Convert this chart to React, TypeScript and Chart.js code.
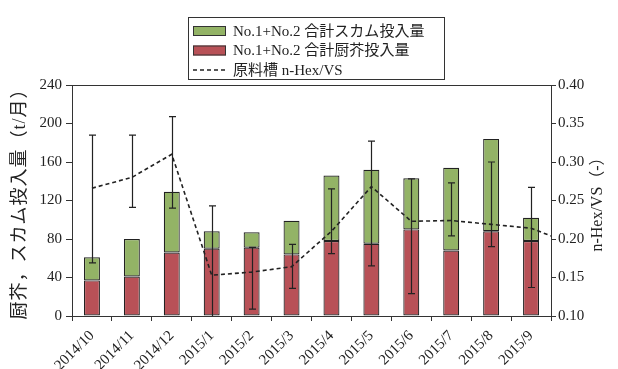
import React, { useEffect, useRef } from 'react';
import { Chart, registerables } from 'chart.js';

Chart.register(...registerables);

// ---- data ----
const months = ['2014/10', '2014/11', '2014/12', '2015/1', '2015/2', '2015/3', '2015/4', '2015/5', '2015/6', '2015/7', '2015/8', '2015/9'];
const kitchenWaste = [37, 41, 66, 70, 71, 64, 78, 75, 90, 68, 88, 78];
const scum = [24, 39, 63, 18, 16, 35, 68, 77, 53, 86, 96, 24];
const hexVS = [0.266, 0.28, 0.31, 0.153, 0.157, 0.164, 0.21, 0.268, 0.223, 0.224, 0.219, 0.214];
const hexVSEdge = 0.204; // line continues to the right border
const hexHigh = [0.335, 0.335, 0.359, 0.243, 0.189, 0.193, 0.265, 0.327, 0.278, 0.273, 0.300, 0.267];
const hexLow = [0.169, 0.241, 0.240, 0.08, 0.109, 0.136, 0.181, 0.165, 0.129, 0.204, 0.190, 0.137];
const leftTitle = '厨芥，スカム投入量（t/月）';
const rightTitle = 'n-Hex/VS（-）';
const scumLabel = 'No.1+No.2 合計スカム投入量';
const wasteLabel = 'No.1+No.2 合計厨芥投入量';
const lineLabel = '原料槽 n-Hex/VS';

const SERIF = "'Liberation Serif', 'Noto Sans CJK JP', serif";
const INK = '#222';

const framePlugin = {
  id: 'frame',
  afterDraw(chart: any) {
    const { ctx, chartArea: a } = chart;
    ctx.save();
    ctx.strokeStyle = '#333';
    ctx.lineWidth = 1;
    ctx.beginPath();
    ctx.moveTo(a.left, a.top + 0.5);
    ctx.lineTo(a.right, a.top + 0.5);
    ctx.stroke();
    ctx.restore();
  },
};

const errorBarPlugin = {
  id: 'errorBars',
  afterDatasetsDraw(chart: any) {
    const { ctx, chartArea: a } = chart;
    const xs = chart.scales.x;
    const ys = chart.scales.y1;
    ctx.save();
    ctx.beginPath();
    ctx.rect(a.left, a.top, a.right - a.left, a.bottom - a.top);
    ctx.clip();
    ctx.strokeStyle = INK;
    ctx.lineWidth = 1.2;
    const cap = 3.5;
    for (let i = 0; i < months.length; i++) {
      const x = Math.round(xs.getPixelForValue(i)) + 0.5;
      const yt = ys.getPixelForValue(hexHigh[i]);
      const yb = ys.getPixelForValue(hexLow[i]);
      ctx.beginPath();
      ctx.moveTo(x, yt);
      ctx.lineTo(x, yb);
      ctx.moveTo(x - cap, yt);
      ctx.lineTo(x + cap, yt);
      ctx.moveTo(x - cap, yb);
      ctx.lineTo(x + cap, yb);
      ctx.stroke();
    }
    ctx.restore();
  },
};

const titlesPlugin = {
  id: 'axisTitles',
  afterDraw(chart: any) {
    const { ctx, chartArea: a } = chart;
    const cy = (a.top + a.bottom) / 2;
    ctx.save();
    ctx.fillStyle = INK;
    ctx.textAlign = 'center';
    ctx.textBaseline = 'middle';
    ctx.font = `18px ${SERIF}`;
    try { (ctx as any).letterSpacing = '1px'; } catch (e) { /* ignore */ }
    ctx.save();
    ctx.translate(20, cy - 1);
    ctx.rotate(-Math.PI / 2);
    ctx.fillText(leftTitle, 0, 0);
    ctx.restore();
    try { (ctx as any).letterSpacing = '0px'; } catch (e) { /* ignore */ }
    ctx.font = `16px ${SERIF}`;
    ctx.save();
    ctx.translate(598, cy);
    ctx.rotate(-Math.PI / 2);
    ctx.fillText(rightTitle, 0, 0);
    ctx.restore();
    ctx.restore();
  },
};

const legendPlugin = {
  id: 'boxLegend',
  afterDraw(chart: any) {
    const { ctx } = chart;
    const ds = chart.data.datasets;
    const items = [ds[1], ds[0], ds[2]];
    const x0 = 188, y0 = 17, w = 256, h = 62;
    ctx.save();
    ctx.fillStyle = '#fff';
    ctx.fillRect(x0, y0, w, h);
    ctx.strokeStyle = '#333';
    ctx.lineWidth = 1;
    ctx.strokeRect(x0 + 0.5, y0 + 0.5, w, h);
    ctx.font = `15px ${SERIF}`;
    ctx.textBaseline = 'middle';
    ctx.textAlign = 'left';
    items.forEach((d: any, i: number) => {
      const cy = y0 + 14 + i * 19.5;
      if (d.type === 'line') {
        ctx.strokeStyle = INK;
        ctx.lineWidth = 1.5;
        ctx.setLineDash([4, 3]);
        ctx.beginPath();
        ctx.moveTo(x0 + 5, cy);
        ctx.lineTo(x0 + 38, cy);
        ctx.stroke();
        ctx.setLineDash([]);
      } else {
        ctx.fillStyle = d.backgroundColor;
        ctx.fillRect(x0 + 5, cy - 5, 33, 10);
        ctx.strokeStyle = '#333';
        ctx.lineWidth = 1;
        ctx.strokeRect(x0 + 5.5, cy - 4.5, 32, 9);
      }
      ctx.fillStyle = INK;
      ctx.fillText(d.label, x0 + 45, cy + 1);
    });
    ctx.restore();
  },
};

export default function App() {
  const ref = useRef<HTMLCanvasElement | null>(null);
  useEffect(() => {
    if (!ref.current) return;
    const lineData = hexVS.map((v, i) => ({ x: i, y: v }));
    lineData.push({ x: months.length - 0.5, y: hexVSEdge });
    const barCommon = {
      borderColor: '#222',
      borderWidth: 1.2,
      borderSkipped: false,
      barPercentage: 0.4,
      categoryPercentage: 1,
      grouped: false,
      yAxisID: 'y',
      xAxisID: 'x',
      stack: 's',
      order: 2,
    };
    const chart = new Chart(ref.current, {
      type: 'bar',
      data: {
        labels: months,
        datasets: [
          { type: 'bar', label: wasteLabel, data: kitchenWaste, backgroundColor: '#b85157', ...barCommon },
          { type: 'bar', label: scumLabel, data: scum, backgroundColor: '#93b366', ...barCommon },
          {
            type: 'line',
            label: lineLabel,
            data: lineData as any,
            borderColor: INK,
            borderWidth: 1.6,
            borderDash: [4, 3],
            pointRadius: 0,
            fill: false,
            tension: 0,
            yAxisID: 'y1',
            xAxisID: 'xl',
            order: 0,
          } as any,
        ],
      },
      options: {
        responsive: false,
        animation: false,
        layout: { padding: { top: 85, left: 0, right: 0, bottom: 0 } },
        plugins: { legend: { display: false }, tooltip: { enabled: false }, title: { display: false } },
        scales: {
          x: {
            type: 'category',
            stacked: true,
            offset: true,
            grid: { display: true, drawOnChartArea: false, drawTicks: true, tickLength: 5, color: '#333', offset: true },
            border: { display: true, color: '#333' },
            ticks: {
              autoSkip: false,
              maxRotation: 45,
              minRotation: 45,
              padding: 6,
              color: INK,
              font: { family: SERIF, size: 15 },
            },
            afterFit: (s: any) => { s.height = 53; },
          },
          xl: {
            type: 'linear',
            display: false,
            offset: false,
            grid: { offset: false },
            bounds: 'data',
            min: -0.5,
            max: months.length - 0.5,
          },
          y: {
            type: 'linear',
            position: 'left',
            stacked: true,
            min: 0,
            max: 240,
            ticks: { stepSize: 40, padding: 4, color: INK, font: { family: SERIF, size: 15 } },
            grid: { display: true, drawOnChartArea: false, drawTicks: true, tickLength: 6, color: '#333' },
            border: { display: true, color: '#333' },
            afterFit: (s: any) => { s.width = 72; },
          },
          y1: {
            type: 'linear',
            position: 'right',
            min: 0.1,
            max: 0.4,
            ticks: {
              stepSize: 0.05,
              padding: 2,
              color: INK,
              font: { family: SERIF, size: 15 },
              callback: (v: any) => Number(v).toFixed(2),
            },
            grid: { display: true, drawOnChartArea: false, drawTicks: true, tickLength: 5, color: '#333' },
            border: { display: true, color: '#333' },
            afterFit: (s: any) => { s.width = 67; },
          },
        },
      } as any,
      plugins: [framePlugin, errorBarPlugin, titlesPlugin, legendPlugin],
    });
    return () => chart.destroy();
  }, []);
  return (
    <canvas
      ref={ref}
      width={618}
      height={369}
      style={{ position: 'absolute', left: 0, top: 0, width: 618, height: 369 }}
    />
  );
}
